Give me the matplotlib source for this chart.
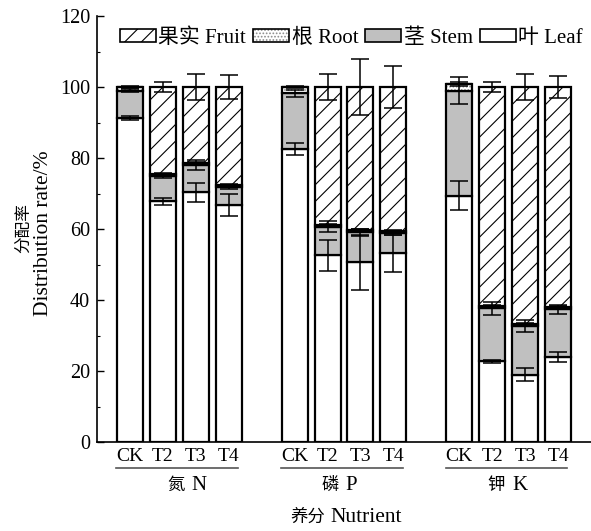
import numpy as np
import matplotlib
matplotlib.use("Agg")
import matplotlib.pyplot as plt
import matplotlib.transforms as mtransforms
from matplotlib.patches import Patch
from matplotlib.ticker import MultipleLocator

plt.rcParams['font.family'] = ['Liberation Serif', 'Noto Sans CJK SC']
plt.rcParams['hatch.linewidth'] = 0.8

treatments = ['CK', 'T2', 'T3', 'T4']
nutrients_cn = ['氮', '磷', '钾']
nutrients_en = ['N', 'P', 'K']

# distribution rate (%) of each organ, N CK..T4, P CK..T4, K CK..T4
leaf = [91.3, 67.8, 70.3, 66.8, 82.6, 52.6, 50.6, 53.1, 69.4, 22.7, 19.0, 23.9]
stem = [7.7, 7.1, 7.7, 5.1, 15.6, 8.1, 8.5, 5.7, 29.6, 15.0, 13.7, 13.5]
root = [1.0, 0.5, 0.6, 0.5, 1.8, 0.5, 0.5, 0.6, 1.8, 0.5, 0.5, 0.5]
fruit = [0.0, 24.6, 21.4, 27.6, 0.0, 38.8, 40.4, 40.6, 0.0, 61.8, 66.8, 62.1]

leaf_err = [0.6, 1.0, 2.7, 3.2, 1.7, 4.3, 7.7, 5.3, 4.0, 0.5, 1.9, 1.4]
stem_err = [0.4, 0.5, 1.4, 0.5, 1.0, 1.5, 1.0, 0.5, 3.7, 1.8, 1.8, 1.3]
root_err = [0.3, 0.3, 0.4, 0.3, 0.3, 0.3, 0.3, 0.3, 0.5, 0.3, 0.3, 0.3]
fruit_err = [0.0, 1.4, 3.8, 3.3, 0.0, 3.8, 8.0, 5.8, 0.0, 1.4, 3.8, 3.0]

# where the Chinese and Latin parts of each group label meet (bar-slot units)
group_label_x = [1.76, 6.44, 11.5]

x = np.array([5 * g + i for g in range(3) for i in range(4)], dtype=float)
leaf = np.array(leaf); stem = np.array(stem); root = np.array(root); fruit = np.array(fruit)

fig = plt.figure(figsize=(5.91, 5.31), dpi=100)
ax = fig.add_axes([97 / 591, 89 / 531, 494 / 591, 426 / 531])

w = 0.79
lw = 1.6
gray = '#c0c0c0'

ax.bar(x, leaf, w, color='white', edgecolor='black', linewidth=lw, zorder=2)
b1 = leaf
ax.bar(x, stem, w, bottom=b1, color=gray, edgecolor='black', linewidth=lw, zorder=2)
b2 = b1 + stem
ax.bar(x, root, w, bottom=b2, color='white', edgecolor='#8a8a8a', hatch='.....',
       linewidth=0, zorder=2)
ax.bar(x, root, w, bottom=b2, fill=False, edgecolor='black', linewidth=lw, zorder=2)
b3 = b2 + root
ax.bar(x, fruit, w, bottom=b3, color='white', edgecolor='black', hatch='//',
       linewidth=lw, zorder=2)
b4 = b3 + fruit

# capsize is half the cap length
eb = dict(fmt='none', ecolor='black', elinewidth=1.1, capsize=6.5, capthick=1.1, zorder=3)
ax.errorbar(x, b1, yerr=leaf_err, **eb)
ax.errorbar(x, b2, yerr=stem_err, **eb)
ax.errorbar(x, b3, yerr=root_err, **eb)
m = fruit > 0
ax.errorbar(x[m], b4[m], yerr=np.array(fruit_err)[m], **eb)

ax.set_xlim(-1, 14)
ax.set_ylim(0, 120)
ax.yaxis.set_major_locator(MultipleLocator(20))
ax.yaxis.set_minor_locator(MultipleLocator(10))
ax.tick_params(axis='y', which='major', direction='in', length=5, width=1, labelsize=14.5, pad=5)
ax.tick_params(axis='y', which='minor', direction='in', length=2.5, width=0.8)
ax.set_xticks(x, labels=treatments * 3)
ax.tick_params(axis='x', length=0, labelsize=14, pad=4)
for s in ['top', 'right']:
    ax.spines[s].set_visible(False)
ax.spines['left'].set_linewidth(1.2)
ax.spines['bottom'].set_linewidth(1.2)

# y label: two stacked columns, Chinese a bit smaller
fig.text(24 / 591, 1 - 228 / 531, '分配率', rotation=90, ha='center', va='center', fontsize=12)
fig.text(44 / 591, 1 - 233 / 531, 'Distribution rate/%', rotation=90, ha='center',
         va='center', fontsize=15.5)

trans = mtransforms.blended_transform_factory(ax.transData, ax.transAxes)
for g in range(3):
    ax.plot([5 * g - 0.41, 5 * g + 3.28], [-0.060, -0.060], transform=trans,
            color='#555555', lw=1.2, clip_on=False)
left_part = mtransforms.offset_copy(trans, fig=fig, x=-2.5, units='points')
right_part = mtransforms.offset_copy(trans, fig=fig, x=2.5, units='points')
for gx, cn, en in zip(group_label_x, nutrients_cn, nutrients_en):
    ax.text(gx, -0.103, cn, transform=left_part, ha='right', va='center', fontsize=12.5)
    ax.text(gx, -0.103, en, transform=right_part, ha='left', va='center', fontsize=15)

fig.text(325 / 591, 1 - 518 / 531, '养分', ha='right', va='center', fontsize=12.5)
fig.text(330 / 591, 1 - 518 / 531, 'Nutrient', ha='left', va='center', fontsize=15.5)

handles = [
    Patch(facecolor='white', edgecolor='black', hatch='//', linewidth=1.2),
    (Patch(facecolor='white', edgecolor='#8a8a8a', hatch='.....', linewidth=0),
     Patch(fill=False, edgecolor='black', linewidth=1.2)),
    Patch(facecolor=gray, edgecolor='black', linewidth=1.2),
    Patch(facecolor='white', edgecolor='black', linewidth=1.2),
]
labels = ['果实 Fruit', '根 Root', '茎 Stem', '叶 Leaf']
ax.legend(handles, labels, loc='center', bbox_to_anchor=(0.515, 0.948), ncol=4,
          frameon=False, fontsize=15, handlelength=1.73, handleheight=0.63,
          handletextpad=0.1, columnspacing=0.35, borderaxespad=0)

fig.savefig('out.png', dpi=100)
